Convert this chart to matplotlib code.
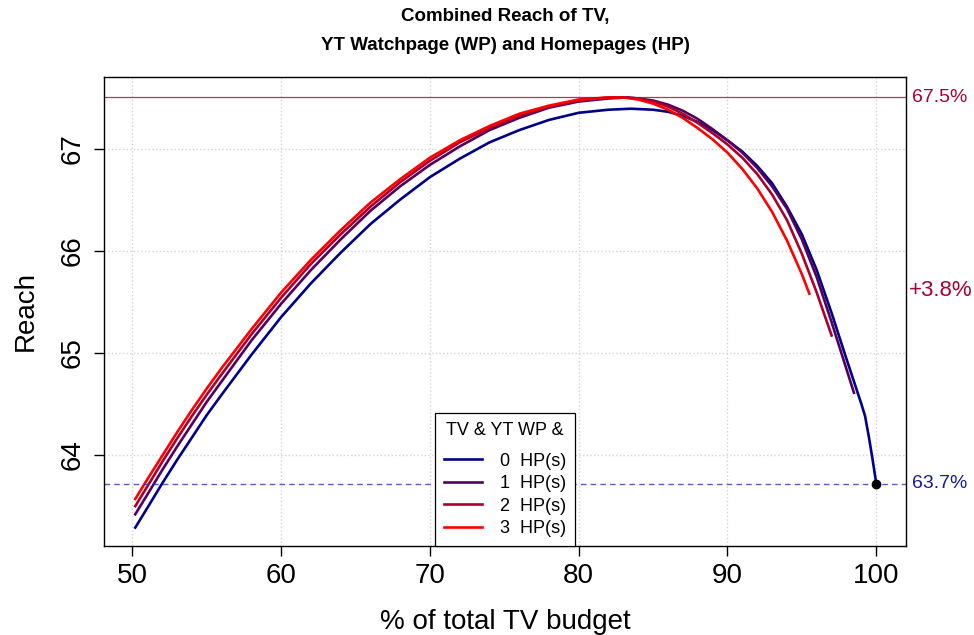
import matplotlib
matplotlib.use("Agg")
import matplotlib.pyplot as plt
import matplotlib.transforms as mtransforms

plt.rcParams['font.family'] = ['Liberation Sans', 'DejaVu Sans']

# % of total TV budget vs reach, one curve per number of homepages
x_hp0 = [50.2, 51, 52, 53, 54, 55, 56, 58, 60, 62, 64, 66, 68, 70, 72, 74, 76, 78, 80, 82,
         83.5, 85, 86, 87, 88, 89, 90, 91, 92, 93, 94, 95, 96, 97, 98, 99, 99.25, 99.5,
         99.75, 100]
y_hp0 = [63.29, 63.48, 63.72, 63.95, 64.17, 64.39, 64.59, 64.98, 65.35, 65.68, 65.98, 66.26,
         66.50, 66.72, 66.90, 67.06, 67.18, 67.28, 67.35, 67.38, 67.39, 67.38, 67.36, 67.32,
         67.26, 67.18, 67.08, 66.97, 66.83, 66.66, 66.43, 66.16, 65.81, 65.39, 64.94, 64.50,
         64.38, 64.18, 63.96, 63.72]

x_hp1 = [50.2, 51, 52, 53, 54, 55, 56, 58, 60, 62, 64, 66, 68, 70, 72, 74, 76, 78, 80, 82,
         83.3, 84, 85, 86, 87, 88, 89, 90, 91, 92, 93, 94, 95, 96, 97, 98, 98.5]
y_hp1 = [63.42, 63.61, 63.85, 64.08, 64.30, 64.52, 64.72, 65.12, 65.48, 65.81, 66.11, 66.39,
         66.63, 66.84, 67.02, 67.18, 67.30, 67.40, 67.46, 67.49, 67.50, 67.49, 67.47, 67.43,
         67.37, 67.29, 67.19, 67.08, 66.96, 66.81, 66.63, 66.41, 66.11, 65.74, 65.30, 64.84,
         64.61]

x_hp2 = [50.2, 51, 52, 53, 54, 55, 56, 58, 60, 62, 64, 66, 68, 70, 72, 74, 76, 78, 80, 82,
         83, 84, 85, 86, 87, 88, 89, 90, 91, 92, 93, 94, 95, 96, 97]
y_hp2 = [63.50, 63.69, 63.93, 64.16, 64.38, 64.59, 64.79, 65.18, 65.54, 65.87, 66.16, 66.43,
         66.67, 66.88, 67.06, 67.20, 67.32, 67.41, 67.47, 67.50, 67.50, 67.49, 67.46, 67.41,
         67.34, 67.25, 67.15, 67.04, 66.91, 66.75, 66.55, 66.30, 65.97, 65.59, 65.17]

x_hp3 = [50.2, 51, 52, 53, 54, 55, 56, 58, 60, 62, 64, 66, 68, 70, 72, 74, 76, 78, 80, 82,
         82.6, 83, 84, 85, 86, 87, 88, 89, 90, 91, 92, 93, 94, 95, 95.5]
y_hp3 = [63.57, 63.76, 63.99, 64.22, 64.44, 64.65, 64.85, 65.23, 65.59, 65.91, 66.20, 66.47,
         66.70, 66.91, 67.08, 67.22, 67.34, 67.42, 67.48, 67.50, 67.50, 67.50, 67.48, 67.44,
         67.38, 67.30, 67.20, 67.09, 66.96, 66.80, 66.61, 66.38, 66.10, 65.77, 65.58]

series_x = [x_hp0, x_hp1, x_hp2, x_hp3]
series_y = [y_hp0, y_hp1, y_hp2, y_hp3]
labels = ['0  HP(s)', '1  HP(s)', '2  HP(s)', '3  HP(s)']
colors = ['#00008B', '#55005D', '#AA002E', '#FF0000']

best = 67.5
base = 63.72
base_x = 100
uplift = '+3.8%'

fig = plt.figure(figsize=(9.74, 6.35), dpi=100)
ax = fig.add_axes([0.1068, 0.1402, 0.8234, 0.7385])

ax.set_xlim(48.1, 102.0)
ax.set_ylim(63.11, 67.70)
ax.set_xticks([50, 60, 70, 80, 90, 100])
ax.set_yticks([64, 65, 66, 67])
ax.grid(True, color='#d3d3d3', linestyle=':', linewidth=1)
ax.set_axisbelow(True)

for xs, ys, lab, c in zip(series_x, series_y, labels, colors):
    ax.plot(xs, ys, color=c, lw=1.9, label=lab, solid_joinstyle='round')

ax.axhline(best, color='#AA002E', lw=0.9, alpha=0.8)
ax.axhline(base, color='#3333AA', lw=1.0, ls=(0, (4, 3)), alpha=0.8)
ax.plot([base_x], [base], 'o', color='black', ms=6, zorder=5)

trans = mtransforms.blended_transform_factory(ax.transAxes, ax.transData)
ax.text(1.0075, best, '67.5%', transform=trans, color='#AA002E', fontsize=14,
        va='center', ha='left')
ax.text(1.0075, base, '63.7%', transform=trans, color='#1a1a99', fontsize=14,
        va='center', ha='left')
ax.text(1.003, (best + base) / 2, uplift, transform=trans, color='#AA002E', fontsize=16,
        va='center', ha='left')

for s in ax.spines.values():
    s.set_linewidth(1.0)
ax.tick_params(direction='out', length=7, width=1, labelsize=20)
ax.tick_params(axis='x', pad=5)
ax.tick_params(axis='y', pad=6)
plt.setp(ax.get_yticklabels(), rotation=90, va='center')

ax.set_xlabel('% of total TV budget', fontsize=20, labelpad=15)
ax.set_ylabel('Reach', fontsize=20, labelpad=15)
fig.text(0.5185, 0.9748, 'Combined Reach of TV,', ha='center', va='center',
         fontsize=13.5, fontweight='bold')
fig.text(0.5185, 0.9276, 'YT Watchpage (WP) and Homepages (HP)', ha='center', va='center',
         fontsize=13.5, fontweight='bold')

leg = ax.legend(loc='lower center', bbox_to_anchor=(0.5, 0.0), title='TV & YT WP &',
                fontsize=13, title_fontsize=13, frameon=True, fancybox=False,
                framealpha=1, edgecolor='black', handlelength=2.1, borderpad=0.5,
                borderaxespad=0, labelspacing=0.3, handletextpad=1.0)
leg.get_frame().set_linewidth(0.9)
leg._legend_box.align = 'center'
leg._legend_box.sep = 10

fig.savefig('out.png', dpi=100)
